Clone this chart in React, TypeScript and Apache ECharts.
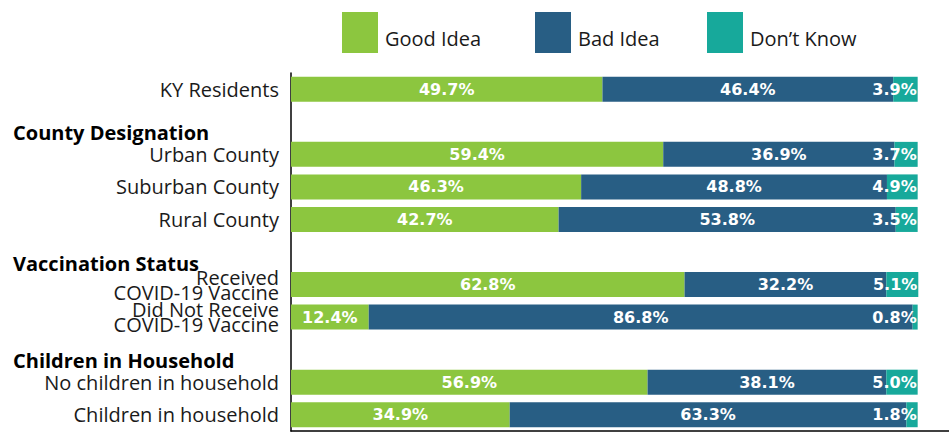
import React, { useEffect, useRef } from "react";
import * as echarts from "echarts";

const categories = [
  "KY Residents",
  "County Designation",
  "Urban County",
  "Suburban County",
  "Rural County",
  "Vaccination Status",
  "Received\nCOVID-19 Vaccine",
  "Did Not Receive\nCOVID-19 Vaccine",
  "Children in Household",
  "No children in household",
  "Children in household",
];
const headerRows = ["County Designation", "Vaccination Status", "Children in Household"];
const seriesNames = ["Good Idea", "Bad Idea", "Don\u2019t Know"];
const goodIdea = [49.7, null, 59.4, 46.3, 42.7, null, 62.8, 12.4, null, 56.9, 34.9];
const badIdea = [46.4, null, 36.9, 48.8, 53.8, null, 32.2, 86.8, null, 38.1, 63.3];
const dontKnow = [3.9, null, 3.7, 4.9, 3.5, null, 5.1, 0.8, null, 5.0, 1.8];

const colors = ["#8CC63F", "#285E84", "#17A99B"];
const labelFont = "'Open Sans', sans-serif";

export default function App() {
  const ref = useRef<HTMLDivElement>(null);
  useEffect(() => {
    if (!ref.current) return;
    const chart = echarts.init(ref.current, null, { renderer: "svg" });
    const valueLabel = (p: any) =>
      p.value == null ? "" : Number(p.value).toFixed(1) + "%";
    const labelStyle = {
      show: true,
      color: "#ffffff",
      fontFamily: "'DejaVu Sans', sans-serif",
      fontWeight: "bold" as const,
      fontSize: 16,
      formatter: valueLabel,
    };
    const legendBase = {
      top: 7,
      itemWidth: 36,
      itemHeight: 41,
      icon: "rect",
      selectedMode: false,
      formatter: (name: string) => `{t|${name}}`,
      textStyle: {
        fontFamily: labelFont,
        fontSize: 20,
        color: "#1a1a1a",
        rich: {
          t: {
            fontFamily: labelFont,
            fontSize: 20,
            color: "#1a1a1a",
            padding: [11, 0, 0, 2],
          },
        },
      },
    };
    const lefts = [337, 530, 702];
    chart.setOption({
      animation: false,
      color: colors,
      legend: seriesNames.map((n, i) => ({ ...legendBase, left: lefts[i], data: [n] })),
      grid: { left: 291, right: 0, top: 73, bottom: 2, containLabel: false },
      xAxis: {
        type: "value",
        min: 0,
        max: 105,
        axisLine: { show: true, lineStyle: { color: "#000", width: 1.5 } },
        axisTick: { show: false },
        axisLabel: { show: false },
        splitLine: { show: false },
      },
      yAxis: {
        type: "category",
        inverse: true,
        data: categories,
        axisLine: { show: true, lineStyle: { color: "#000", width: 1.5 } },
        axisTick: { show: false },
        axisLabel: {
          interval: 0,
          margin: 12,
          formatter: (val: string) => {
            if (headerRows.includes(val)) return `{h|${val}}`;
            const parts = val.split("\n");
            if (parts.length > 1) return parts.map((s) => `{m|${s}}`).join("\n");
            return `{n|${val}}`;
          },
          rich: {
            n: { fontFamily: labelFont, fontSize: 20, color: "#1a1a1a" },
            m: { fontFamily: labelFont, fontSize: 20, color: "#1a1a1a", lineHeight: 15 },
            h: {
              fontFamily: labelFont,
              fontSize: 20,
              fontWeight: "bold",
              color: "#000",
              width: 266,
              align: "left",
              padding: [22, 0, 0, 0],
            },
          },
        },
      },
      series: [
        {
          name: seriesNames[0],
          type: "bar",
          stack: "total",
          barWidth: 25,
          data: goodIdea,
          label: { ...labelStyle, position: "inside" },
        },
        {
          name: seriesNames[1],
          type: "bar",
          stack: "total",
          barWidth: 25,
          data: badIdea,
          label: { ...labelStyle, position: "inside" },
        },
        {
          name: seriesNames[2],
          type: "bar",
          stack: "total",
          barWidth: 25,
          data: dontKnow,
          label: { ...labelStyle, position: "insideRight", distance: 1 },
        },
      ],
    });
    return () => chart.dispose();
  }, []);
  return (
    <div
      ref={ref}
      style={{ position: "absolute", left: 0, top: 0, width: 949, height: 433, background: "#fff" }}
    />
  );
}
